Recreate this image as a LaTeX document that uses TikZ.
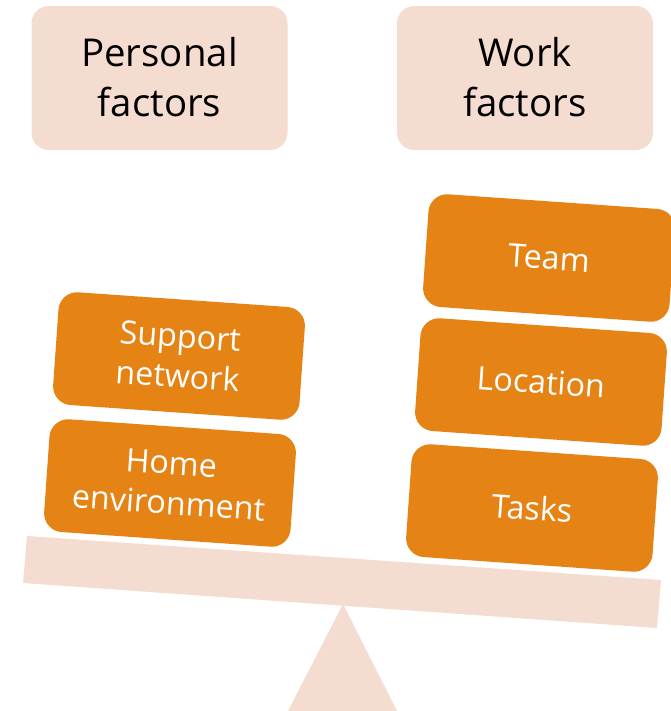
\documentclass[tikz,border=0pt]{standalone}
\usepackage{fontspec}
\setmainfont{Open Sans}
\definecolor{pale}{HTML}{F5DCD0}
\definecolor{orng}{HTML}{E58315}
\newdimen\pxu \pxu=0.75pt
\tikzset{
 header/.style={fill=pale,rounded corners=13pt,minimum width=256\pxu,minimum height=144\pxu,align=center,font=\fontsize{28.8}{37.5}\selectfont,text=black,inner sep=0pt},
 block/.style={fill=orng,rounded corners=14pt,minimum width=247\pxu,minimum height=113\pxu,align=center,font=\fontsize{24.2}{30}\selectfont,text=white,inner sep=0pt,rotate=-4},
}
\begin{document}
\begin{tikzpicture}[x=0.75pt,y=-0.75pt]
\useasboundingbox (0,0) rectangle (671,711);
\node[header] (pf) at (159.5,78) {\raisebox{1pt}{Personal}\\\raisebox{1pt}{factors}};
\node[header] (wf) at (525,78) {\raisebox{1pt}{Work}\\\raisebox{1pt}{factors}};
\fill[pale] (27,536) -- (661,580) -- (657,628) -- (23,583) -- cycle;
\fill[pale] (343,604) -- (397,711) -- (288,711) -- cycle;
\node[block] (home) at (170,483) {Home\\environment};
\node[block] (supp) at (179,356) {Support\\network};
\node[block] (tasks) at (532,508) {Tasks};
\node[block] (loc) at (541,382) {Location};
\node[block] (team) at (549,258) {Team};
\end{tikzpicture}
\end{document}
